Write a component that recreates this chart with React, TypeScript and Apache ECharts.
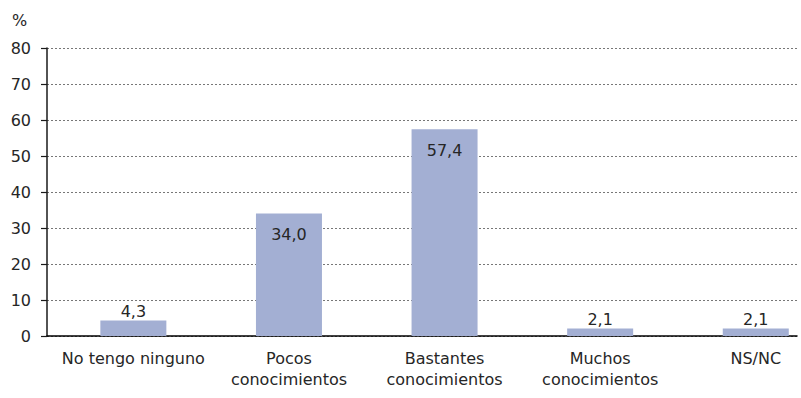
import React, { useEffect, useRef } from "react";
import * as echarts from "echarts";

const categories = [
  "No tengo ninguno",
  "Pocos\nconocimientos",
  "Bastantes\nconocimientos",
  "Muchos\nconocimientos",
  "NS/NC",
];
const values = [4.3, 34.0, 57.4, 2.1, 2.1];
const yTicks = [0, 10, 20, 30, 40, 50, 60, 70, 80];

const FONT = "'DejaVu Sans', Verdana, sans-serif";
const TEXT = "#262626";
const OFFSET = 0.555;

export default function App() {
  const ref = useRef<HTMLDivElement>(null);
  useEffect(() => {
    if (!ref.current) return;
    const chart = echarts.init(ref.current, undefined, { renderer: "svg" });
    const fmt = (v: number) => v.toFixed(1).replace(".", ",");
    chart.setOption({
      animation: false,
      textStyle: { fontFamily: FONT },
      title: {
        text: "%",
        left: 7,
        top: 7,
        textStyle: { fontSize: 16, fontWeight: "normal", color: TEXT, fontFamily: FONT },
      },
      grid: { left: 47, right: 4, top: 48, bottom: 62, containLabel: false },
      xAxis: {
        type: "value",
        min: 0,
        max: 4.82,
        splitLine: { show: false },
        axisTick: { show: false },
        axisLine: { show: true, lineStyle: { color: "#000", width: 1.5 } },
        axisLabel: {
          customValues: categories.map((_, i) => i + OFFSET),
          formatter: (v: number) => categories[Math.round(v - OFFSET)] ?? "",
          color: TEXT,
          fontSize: 16,
          lineHeight: 21,
          margin: 12,
          fontFamily: FONT,
        },
      },
      yAxis: {
        type: "value",
        position: "left",
        min: yTicks[0],
        max: yTicks[yTicks.length - 1],
        interval: 10,
        axisLine: { show: true, onZero: false, lineStyle: { color: "#1a1a1a", width: 1.5 } },
        axisTick: { show: true, inside: false, length: 6, lineStyle: { color: "#1a1a1a", width: 1.2 } },
        axisLabel: { color: TEXT, fontSize: 16, margin: 16, fontFamily: FONT },
        splitLine: {
          show: true,
          lineStyle: { color: "#777", type: [2, 2], width: 1 },
        },
      },
      series: [
        {
          type: "bar",
          barWidth: 66,
          itemStyle: { color: "#a3afd3" },
          data: values.map((v, i) => ({
            value: [i + OFFSET, v],
            label: {
              show: true,
              position: v > 20 ? "insideTop" : "top",
              distance: v > 20 ? 13 : 1,
              formatter: () => fmt(v),
              color: TEXT,
              fontSize: 16,
              fontFamily: FONT,
            },
          })),
        },
      ],
    });
    return () => chart.dispose();
  }, []);
  return <div ref={ref} style={{ width: 801, height: 398, position: "absolute", left: 0, top: 0 }} />;
}
